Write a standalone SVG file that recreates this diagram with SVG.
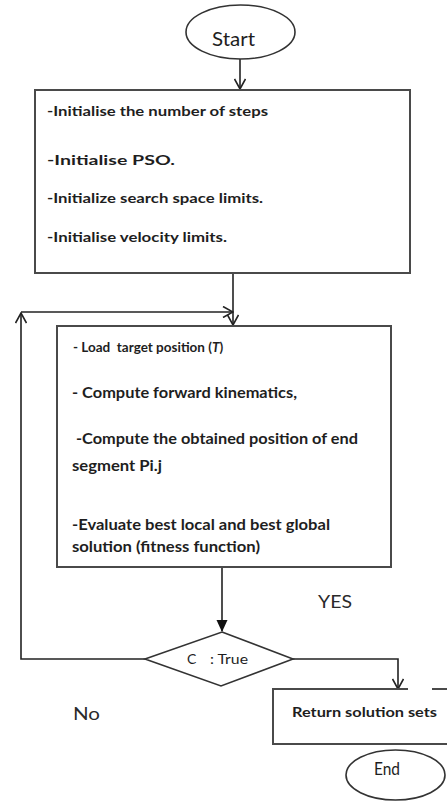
<svg xmlns="http://www.w3.org/2000/svg" width="447" height="802" viewBox="0 0 447 802">
  <style>
    .box { fill: #ffffff; stroke: #4a4a4a; stroke-width: 2; }
    .term { fill: #ffffff; stroke: #333333; stroke-width: 1.6; }
    .wire { fill: none; stroke: #222222; stroke-width: 1.6; }
    .lbl { font-family: Lato, "Open Sans", "Liberation Sans", sans-serif; fill: #1e1e1e; white-space: pre; }
    .b { font-weight: bold; font-size: 14px; }
    .b2 { font-weight: bold; font-size: 15px; }
    .r { font-size: 17px; fill: #2a2a2a; }
  </style>
  <defs>
    <marker id="open" viewBox="0 0 12 12" refX="11" refY="6" markerWidth="12" markerHeight="12" markerUnits="userSpaceOnUse" orient="auto">
      <path d="M1,0.5 L11,6 L1,11.5" fill="none" stroke="#222222" stroke-width="1.6"/>
    </marker>
    <marker id="solid" viewBox="0 0 12 12" refX="11" refY="6" markerWidth="12" markerHeight="12" markerUnits="userSpaceOnUse" orient="auto">
      <path d="M0,0.5 L12,6 L0,11.5 Z" fill="#111111"/>
    </marker>
  </defs>

  <!-- connectors -->
  <g id="connectors">
    <path class="wire" d="M240,59 L240,89" marker-end="url(#open)"/>
    <path class="wire" d="M233,273 L233,325" marker-end="url(#open)"/>
    <path class="wire" d="M222,567 L222,631" marker-end="url(#solid)"/>
    <path class="wire" d="M145,659 L21,659 L21,313" marker-end="url(#open)"/>
    <path class="wire" d="M21,312 L233,312" marker-end="url(#open)"/>
    <path class="wire" d="M293,659 L398,659 L398,689" marker-end="url(#open)"/>
  </g>

  <g id="start">
    <ellipse class="term" cx="240.5" cy="32" rx="54.5" ry="27"/>
    <text class="lbl" x="212" y="46" font-size="20" textLength="43" lengthAdjust="spacingAndGlyphs">Start</text>
  </g>

  <g id="init">
    <rect class="box" x="35" y="90" width="375" height="183"/>
    <text class="lbl b" x="47" y="116" textLength="221" lengthAdjust="spacingAndGlyphs">-Initialise the number of steps</text>
    <text class="lbl b" x="47" y="165" textLength="128" lengthAdjust="spacingAndGlyphs">-Initialise PSO.</text>
    <text class="lbl b" x="47" y="203" textLength="216" lengthAdjust="spacingAndGlyphs">-Initialize search space limits.</text>
    <text class="lbl b" x="47" y="242" textLength="180" lengthAdjust="spacingAndGlyphs">-Initialise velocity limits.</text>
  </g>

  <g id="evaluate">
    <rect class="box" x="57" y="326" width="334" height="241"/>
    <text class="lbl" x="73" y="352" font-size="13.5" font-weight="bold">- Load  target position (<tspan font-style="italic">T</tspan>)</text>
    <text class="lbl b2" x="72" y="398" textLength="225" lengthAdjust="spacingAndGlyphs">- Compute forward kinematics,</text>
    <text class="lbl b2" x="76" y="444" textLength="282" lengthAdjust="spacingAndGlyphs">-Compute the obtained position of end</text>
    <text class="lbl b2" x="72" y="471" textLength="90" lengthAdjust="spacingAndGlyphs">segment Pi.j</text>
    <text class="lbl b2" x="72" y="530" textLength="258" lengthAdjust="spacingAndGlyphs">-Evaluate best local and best global</text>
    <text class="lbl b2" x="72" y="552" textLength="188" lengthAdjust="spacingAndGlyphs">solution (fitness function)</text>
  </g>

  <g id="decision">
    <polygon class="term" points="222,632 293,659 221,686 145,659"/>
    <text class="lbl" x="187" y="664" font-size="14">C</text>
    <text class="lbl" x="210" y="664" font-size="14" textLength="38" lengthAdjust="spacingAndGlyphs">: True</text>
  </g>

  <g id="labels">
    <text class="lbl r" x="318" y="608" textLength="34" lengthAdjust="spacingAndGlyphs">YES</text>
    <text class="lbl r" x="73" y="720" textLength="27" lengthAdjust="spacingAndGlyphs">No</text>
  </g>

  <g id="result">
    <rect x="273" y="689" width="190" height="55" fill="#ffffff" stroke="none"/>
    <path class="box" fill="none" d="M408,689 L273,689 L273,744 L449,744"/>
    <path class="box" fill="none" d="M432,689 L449,689"/>
    <text class="lbl b" x="292" y="717" textLength="145" lengthAdjust="spacingAndGlyphs">Return solution sets</text>
  </g>

  <g id="end">
    <ellipse class="term" cx="395.5" cy="775" rx="49.5" ry="25"/>
    <text class="lbl" x="374" y="775" font-size="17" textLength="26" lengthAdjust="spacingAndGlyphs">End</text>
  </g>
</svg>
